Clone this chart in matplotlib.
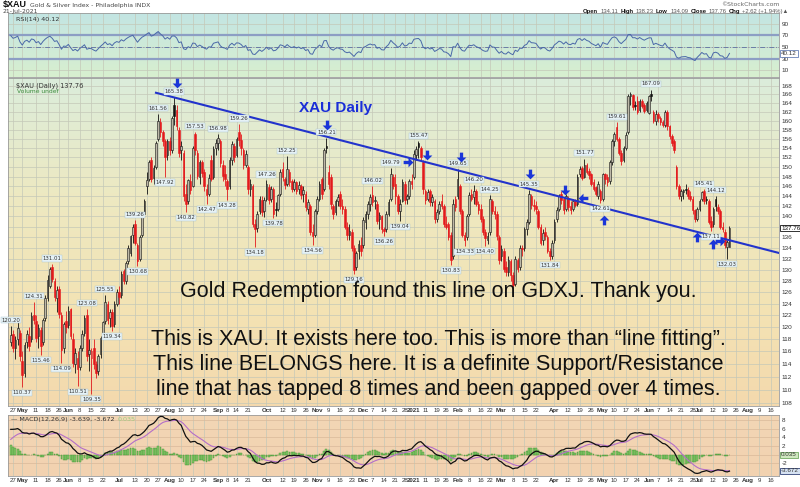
import numpy as np
import pandas as pd
import matplotlib
matplotlib.use('Agg')
import matplotlib.pyplot as plt
from matplotlib.path import Path
from matplotlib.markers import MarkerStyle
from matplotlib.transforms import Affine2D
from matplotlib.colors import to_rgb

plt.rcParams['font.family'] = ['Liberation Sans', 'DejaVu Sans']

# ---- daily OHLC of $XAU, 24-Apr-2020 .. 21-Jul-2021 (one line per week) ----
holidays = ['2020-05-25', '2020-07-03', '2020-09-07', '2020-11-26', '2020-12-25', '2021-01-01',
            '2021-01-18', '2021-02-15', '2021-04-02', '2021-05-31', '2021-07-05']

opens = [
    117.5,
    118.8, 116.5, 118.0, 119.0, 114.5,
    112.5, 117.5, 118.5, 118.0, 122.0,
    121.0, 118.5, 119.5, 117.5, 121.5,
    125.0, 127.0, 130.5, 128.0, 125.0,
    126.5, 122.0, 116.5, 121.0,
    120.3, 123.0, 118.0, 114.0, 115.0,
    113.5, 116.5, 119.0, 122.0, 115.5,
    115.0, 116.5, 114.0, 112.8, 115.5,
    118.5, 121.0, 124.0, 121.5, 122.5,
    120.5, 124.0, 126.0, 125.5,
    129.8, 128.0, 131.5, 133.0, 136.5,
    138.5, 134.5, 132.0, 136.5, 140.5,
    146.0, 147.5, 151.5, 147.8, 150.0,
    156.0, 159.8, 157.5, 155.5, 152.5,
    155.5, 153.5, 163.5, 162.5, 158.0,
    153.5, 153.0, 144.5, 143.0, 147.0,
    146.0, 157.0, 153.0, 148.0, 151.0,
    149.0, 145.5, 144.5, 151.5, 148.0,
    154.0, 155.0, 155.5, 150.5, 148.5,
    147.0, 146.0, 151.5, 154.5,
    152.5, 157.5, 155.8, 153.5, 150.5,
    150.0, 145.5, 146.0, 138.5, 137.8,
    141.0, 143.2, 141.0, 143.5, 145.8,
    143.5, 145.5, 141.5, 141.5, 144.5,
    149.5, 147.5, 146.5, 149.0, 147.0,
    145.5, 146.8, 145.5, 146.0, 144.5,
    144.5, 141.5, 142.0, 137.0, 136.5,
    141.0, 143.5, 147.5, 145.5, 154.5,
    149.0, 148.0, 142.0, 140.8, 143.0,
    144.5, 142.0, 141.5, 138.0, 136.5,
    137.0, 134.0, 130.5, 133.5,
    134.5, 134.5, 139.0, 140.5, 142.5,
    144.2, 143.0, 142.5, 139.5, 140.0,
    137.5, 137.5, 140.5, 143.5, 148.0,
    146.5, 144.0, 141.0, 143.0,
    146.5, 143.5, 144.0, 147.0,
    148.0, 152.5, 155.0, 154.0, 151.0,
    145.0, 143.5, 145.0, 142.8, 143.0,
    139.5, 141.0, 143.0, 142.0,
    138.5, 138.5, 136.5, 132.5, 143.5,
    144.0, 146.0, 141.0, 136.5, 136.0,
    140.5, 144.5, 143.8, 145.0, 142.5,
    141.5, 139.5, 137.0, 135.5,
    137.0, 143.0, 141.0, 140.5, 136.0,
    132.5, 133.5, 130.5, 129.5, 131.5,
    129.0, 127.5, 131.8, 130.5, 134.0,
    134.0, 137.5, 139.0, 144.0, 142.2,
    142.0, 141.0, 138.0, 135.5, 137.0,
    136.0, 133.5, 132.5, 135.5,
    139.5, 141.5, 144.5, 143.5, 141.5,
    143.5, 142.0, 141.5, 143.0, 142.5,
    148.5, 149.8, 148.0, 150.5, 149.2,
    148.5, 146.8, 145.8, 144.0, 145.0,
    143.5, 148.5, 148.0, 147.0, 151.0,
    155.5, 158.5, 156.0, 153.0, 151.5,
    154.0, 157.5, 165.5, 165.8, 163.5,
    164.5, 162.5, 164.5, 163.5, 162.5,
    161.8, 166.0, 162.0, 160.0,
    161.5, 160.5, 159.6, 159.0, 162.0,
    158.8, 156.6, 155.5, 150.0, 146.0,
    144.0, 144.8, 145.5, 145.2, 144.0,
    143.5, 141.2, 139.6, 141.5, 143.5,
    145.0, 143.5, 143.0, 139.2,
    138.5, 143.5, 141.8, 141.0, 138.0,
    137.0, 134.2, 134.11,
]

highs = [
    120.2,
    119.5, 118.5, 121.0, 119.5, 116.0,
    117.5, 119.5, 120.0, 122.5, 124.31,
    122.0, 120.5, 120.0, 121.5, 125.5,
    129.0, 130.5, 131.01, 128.5, 127.0,
    127.0, 122.5, 120.8, 122.8,
    123.5, 123.3, 119.0, 116.5, 116.0,
    117.0, 119.5, 122.0, 123.08, 118.0,
    116.5, 118.0, 114.5, 115.5, 118.5,
    121.0, 125.55, 124.5, 123.0, 123.0,
    124.5, 126.5, 127.0, 129.8,
    130.2, 131.5, 134.5, 136.5, 138.5,
    139.26, 135.0, 136.5, 140.5, 143.5,
    149.0, 151.5, 152.0, 150.5, 155.5,
    161.56, 160.5, 158.0, 156.0, 156.0,
    156.5, 161.0, 165.38, 163.5, 158.5,
    155.5, 153.5, 146.5, 147.5, 148.5,
    154.5, 157.53, 153.5, 151.5, 151.5,
    149.5, 146.5, 148.5, 152.5, 154.5,
    156.0, 156.98, 156.0, 151.5, 150.5,
    147.5, 152.0, 155.5, 155.0,
    156.5, 159.26, 157.0, 154.0, 153.5,
    150.5, 147.5, 146.5, 139.5, 141.0,
    144.0, 144.0, 143.8, 147.26, 146.5,
    146.0, 145.8, 142.8, 144.5, 149.5,
    151.0, 148.0, 152.25, 149.5, 147.5,
    147.5, 147.0, 147.0, 146.5, 146.0,
    145.0, 143.5, 142.5, 138.5, 141.5,
    144.0, 147.0, 148.0, 154.0, 156.21,
    150.5, 148.5, 142.5, 143.5, 144.5,
    145.0, 143.5, 142.0, 139.0, 138.5,
    137.5, 134.5, 133.5, 135.5,
    136.0, 139.8, 141.0, 143.0, 144.5,
    146.02, 144.0, 143.0, 140.8, 140.3,
    138.0, 141.0, 143.5, 149.79, 148.5,
    148.5, 144.5, 143.5, 147.5,
    147.0, 144.5, 147.5, 148.5,
    153.5, 154.5, 155.47, 154.5, 151.5,
    145.5, 145.5, 145.5, 144.5, 143.5,
    141.5, 143.0, 144.5, 142.5,
    140.0, 139.0, 137.0, 143.5, 144.0,
    149.65, 146.5, 141.5, 137.0, 140.5,
    144.8, 145.5, 146.2, 145.5, 143.0,
    142.5, 140.0, 137.5, 137.0,
    144.25, 143.5, 142.0, 141.0, 136.5,
    134.5, 134.0, 131.5, 132.5, 132.0,
    129.5, 132.5, 132.2, 134.5, 134.5,
    138.0, 139.5, 145.35, 144.5, 143.5,
    143.0, 141.5, 138.5, 137.5, 138.0,
    136.5, 134.0, 135.5, 139.5,
    141.8, 144.5, 145.0, 143.8, 144.5,
    144.0, 143.0, 143.5, 143.5, 148.5,
    150.2, 150.2, 151.77, 150.8, 149.8,
    148.8, 147.5, 146.0, 147.0, 145.5,
    148.8, 148.8, 148.5, 151.5, 156.0,
    157.5, 159.61, 156.5, 153.5, 154.5,
    157.5, 166.0, 166.5, 166.0, 164.5,
    165.5, 165.0, 165.0, 164.0, 164.5,
    165.8, 167.09, 162.5, 162.5,
    162.0, 161.0, 160.2, 162.5, 162.5,
    159.0, 157.0, 156.0, 150.5, 146.5,
    145.5, 145.5, 146.5, 145.8, 145.0,
    144.0, 141.5, 141.8, 143.5, 145.0,
    145.41, 144.0, 143.5, 140.0,
    141.8, 144.12, 142.5, 141.5, 139.0,
    137.5, 135.5, 138.23,
]

lows = [
    116.8,
    115.9, 114.8, 117.0, 114.5, 110.37,
    112.0, 116.5, 116.0, 117.5, 120.5,
    117.5, 116.5, 115.46, 117.0, 121.0,
    124.5, 126.8, 127.8, 124.5, 122.5,
    121.5, 114.09, 115.8, 119.0,
    119.8, 118.0, 113.5, 112.5, 110.51,
    113.0, 116.0, 118.5, 114.5, 112.8,
    109.35, 113.2, 111.8, 112.2, 115.0,
    118.0, 120.5, 120.5, 120.0, 119.34,
    120.0, 123.5, 124.0, 125.0,
    127.5, 127.5, 131.0, 132.5, 135.0,
    134.5, 130.68, 131.5, 136.0, 140.0,
    144.5, 147.0, 146.8, 146.5, 149.5,
    155.5, 156.5, 154.5, 147.92, 151.5,
    152.5, 153.0, 159.0, 158.0, 152.0,
    151.5, 143.0, 140.82, 142.5, 144.5,
    145.8, 152.5, 147.5, 146.5, 148.0,
    145.0, 142.47, 144.0, 147.0, 147.5,
    152.5, 153.5, 150.0, 147.0, 146.0,
    143.28, 145.5, 150.5, 151.0,
    152.0, 154.5, 152.5, 149.5, 150.0,
    144.5, 144.0, 138.0, 134.18, 137.0,
    140.5, 140.0, 139.8, 143.0, 142.5,
    142.8, 139.78, 140.0, 141.0, 144.0,
    147.0, 145.5, 146.0, 146.0, 144.8,
    145.0, 144.5, 144.5, 143.5, 142.8,
    141.0, 140.5, 136.5, 134.56, 136.0,
    140.5, 143.0, 143.5, 145.0, 153.0,
    145.5, 141.5, 139.5, 140.2, 142.0,
    141.5, 140.5, 137.5, 135.5, 135.5,
    133.5, 129.16, 130.0, 132.0,
    132.5, 134.0, 137.5, 139.5, 141.0,
    142.0, 141.5, 138.5, 137.5, 136.8,
    136.26, 137.0, 140.0, 143.0, 145.5,
    142.5, 140.5, 139.04, 142.8,
    142.5, 142.5, 143.5, 145.5,
    147.5, 151.5, 151.8, 151.5, 144.5,
    142.5, 143.0, 142.0, 142.0, 138.8,
    139.0, 140.5, 141.5, 138.0,
    137.5, 135.5, 130.83, 132.0, 141.0,
    143.5, 140.5, 136.0, 134.33, 135.5,
    140.0, 143.0, 142.5, 142.0, 140.5,
    139.0, 136.5, 134.4, 134.8,
    136.5, 140.5, 139.5, 135.5, 131.0,
    131.5, 129.5, 128.8, 128.8, 128.0,
    126.5, 127.0, 129.5, 130.0, 132.5,
    133.5, 136.5, 138.5, 141.5, 141.0,
    140.5, 137.5, 134.5, 134.5, 135.5,
    133.0, 131.84, 132.0, 135.0,
    139.0, 141.0, 142.5, 140.5, 141.0,
    141.0, 140.5, 141.0, 141.8, 142.0,
    148.0, 147.2, 147.8, 148.5, 147.5,
    146.0, 145.0, 144.0, 143.5, 142.61,
    143.0, 146.5, 146.0, 146.5, 150.5,
    154.5, 155.5, 152.5, 150.5, 151.0,
    153.5, 157.0, 163.5, 162.5, 162.5,
    161.5, 162.0, 162.8, 161.8, 162.0,
    161.5, 164.5, 159.5, 159.0,
    159.8, 159.0, 158.5, 158.5, 158.0,
    156.0, 154.5, 153.0, 145.5, 143.5,
    143.0, 143.5, 144.5, 143.5, 143.0,
    140.5, 139.0, 139.2, 141.0, 143.0,
    142.5, 142.5, 138.5, 137.11,
    138.0, 141.0, 140.5, 137.5, 137.0,
    134.0, 132.03, 134.09,
]

closes = [
    118.6,
    116.6, 117.8, 119.8, 115.2, 112.2,
    117.0, 118.8, 116.8, 121.8, 121.2,
    118.2, 119.8, 116.8, 121.2, 125.0,
    128.2, 130.2, 128.3, 125.2, 126.3,
    122.2, 116.2, 120.5, 120.0,
    122.8, 118.5, 114.2, 115.8, 113.2,
    116.5, 118.8, 121.5, 115.2, 116.2,
    116.0, 114.0, 112.5, 115.2, 118.2,
    120.8, 124.2, 121.2, 122.5, 120.2,
    124.0, 126.0, 125.2, 129.2,
    127.9, 131.2, 134.0, 136.2, 138.0,
    135.0, 131.5, 136.0, 140.2, 143.0,
    147.2, 151.0, 147.5, 149.8, 155.0,
    160.0, 157.5, 155.5, 152.0, 155.5,
    153.5, 160.5, 161.0, 158.8, 153.0,
    154.5, 144.0, 142.5, 147.2, 145.2,
    154.0, 153.5, 148.2, 151.0, 148.8,
    146.0, 144.2, 147.8, 147.5, 153.8,
    155.0, 156.2, 150.8, 148.2, 147.5,
    145.5, 151.5, 154.8, 152.0,
    156.0, 155.8, 154.0, 150.5, 152.8,
    145.5, 146.5, 138.5, 137.5, 140.5,
    143.5, 140.8, 143.2, 146.5, 143.2,
    145.5, 140.5, 141.2, 144.2, 149.0,
    148.0, 146.2, 149.5, 146.8, 145.5,
    146.8, 145.0, 146.2, 144.3, 145.2,
    141.8, 142.8, 137.0, 136.2, 141.0,
    143.5, 146.5, 144.5, 153.5, 154.0,
    146.5, 142.5, 140.5, 143.0, 143.8,
    142.0, 141.5, 138.0, 136.5, 137.2,
    134.0, 130.0, 133.0, 134.8,
    133.5, 139.3, 140.5, 142.5, 143.8,
    142.8, 143.2, 139.2, 140.2, 137.5,
    137.2, 140.5, 142.8, 148.5, 146.0,
    144.0, 141.0, 142.5, 146.8,
    143.2, 144.0, 147.0, 146.5,
    152.8, 153.8, 154.2, 152.2, 145.5,
    143.2, 144.8, 142.8, 143.8, 139.5,
    140.8, 142.5, 142.0, 138.5,
    138.0, 136.0, 131.8, 142.5, 141.8,
    147.5, 141.0, 136.5, 135.5, 140.0,
    144.2, 143.5, 145.0, 142.5, 141.2,
    139.5, 137.0, 135.8, 136.2,
    143.5, 141.0, 140.5, 136.2, 131.8,
    133.8, 130.2, 129.5, 131.8, 129.0,
    127.2, 132.0, 130.2, 134.0, 133.8,
    137.5, 139.0, 144.5, 142.2, 142.0,
    141.5, 138.0, 135.0, 136.8, 136.2,
    133.5, 132.5, 135.0, 139.0,
    141.2, 144.0, 143.2, 141.2, 144.0,
    141.8, 141.3, 143.0, 142.2, 148.0,
    149.5, 147.8, 150.5, 149.0, 148.3,
    146.5, 145.5, 144.5, 146.5, 143.3,
    148.5, 147.5, 146.8, 151.0, 155.5,
    157.0, 156.0, 153.0, 151.2, 154.0,
    156.8, 165.5, 166.0, 163.0, 163.2,
    162.0, 164.5, 163.2, 162.2, 164.0,
    165.5, 165.6, 160.0, 161.5,
    160.5, 159.6, 159.0, 162.0, 158.8,
    156.6, 155.2, 153.6, 146.0, 144.0,
    145.0, 145.2, 145.3, 144.0, 143.5,
    141.2, 139.6, 141.5, 143.0, 144.8,
    143.0, 143.3, 139.0, 138.0,
    141.5, 142.0, 141.0, 138.0, 137.6,
    134.5, 135.14, 137.76,
]

# labelled swing highs / lows
label_highs = [120.20, 124.31, 131.01, 123.08, 125.55, 139.26, 161.56, 165.38, 157.53, 156.98,
               159.26, 147.26, 152.25, 156.21, 146.02, 149.79, 155.47, 149.65, 146.20, 144.25,
               145.35, 151.77, 159.61, 167.09, 145.41, 144.12]
label_lows = [110.37, 115.46, 114.09, 110.51, 109.35, 119.34, 130.68, 147.92, 140.82, 142.47,
              143.28, 134.18, 139.78, 134.56, 129.16, 136.26, 139.04, 130.83, 134.33, 134.40,
              131.84, 142.61, 137.11, 132.03]

# blue arrows drawn on the chart (trading-day position, price, direction)
arrow_pos = [72.2, 137.3, 172.4, 180.7, 195.4, 225.4, 240.6, 248.4, 257.5, 297.9, 304.8, 307.9]
arrow_price = [168.7, 159.0, 151.1, 152.6, 152.0, 148.5, 145.3, 143.7, 139.4, 136.1, 134.8, 135.2]
arrow_dir = ['down', 'down', 'right', 'down', 'down', 'down', 'down', 'left', 'up', 'up', 'up', 'right']

# trend line (trading-day position, price)
trend_pos = [62.6, 334.0]
trend_price = [166.4, 133.0]

# indicator starting state (from the chart history before the window)
rsi_gain0, rsi_loss0 = 1.5, 0.65
ema12_0, ema26_0, signal0 = 111.0, 105.2, 3.5

tick_dates = ['2020-04-27', '2020-05-01', '2020-05-11', '2020-05-18', '2020-05-26', '2020-06-01',
              '2020-06-08', '2020-06-15', '2020-06-22', '2020-07-01', '2020-07-13', '2020-07-20',
              '2020-07-27', '2020-08-03', '2020-08-10', '2020-08-17', '2020-08-24', '2020-09-01',
              '2020-09-08', '2020-09-14', '2020-09-21', '2020-10-01', '2020-10-12', '2020-10-19',
              '2020-10-26', '2020-11-02', '2020-11-09', '2020-11-16', '2020-11-23', '2020-12-01',
              '2020-12-07', '2020-12-14', '2020-12-21', '2020-12-28', '2021-01-04', '2021-01-11',
              '2021-01-19', '2021-01-25', '2021-02-01', '2021-02-08', '2021-02-16', '2021-02-22',
              '2021-03-01', '2021-03-08', '2021-03-15', '2021-03-22', '2021-04-01', '2021-04-12',
              '2021-04-19', '2021-04-26', '2021-05-03', '2021-05-10', '2021-05-17', '2021-05-24',
              '2021-06-01', '2021-06-07', '2021-06-14', '2021-06-21', '2021-06-28', '2021-07-01',
              '2021-07-12', '2021-07-19', '2021-07-26', '2021-08-02', '2021-08-09', '2021-08-16']
tick_labels = ['27', 'May', '11', '18', '26', 'Jun', '8', '15', '22', 'Jul', '13', '20', '27', 'Aug',
               '10', '17', '24', 'Sep', '8', '14', '21', 'Oct', '12', '19', '26', 'Nov', '9', '16', '23',
               'Dec', '7', '14', '21', '28', '2021', '11', '19', '26', 'Feb', '8', '16', '22', 'Mar', '8',
               '15', '22', 'Apr', '12', '19', '26', 'May', '10', '17', '24', 'Jun', '7', '14', '21', '28',
               'Jul', '12', '19', '26', 'Aug', '9', '16']

# ---- derived ----
n = min(len(opens), len(highs), len(lows), len(closes))
o = np.array(opens[:n]); h = np.array(highs[:n]); l = np.array(lows[:n]); c = np.array(closes[:n])
x = np.arange(n)

days = pd.bdate_range('2020-04-24', '2021-09-30')
days = days[~days.isin(pd.to_datetime(holidays))]
tick_x = [days.get_loc(pd.Timestamp(d)) for d in tick_dates]

def rsi_calc(cl, g, lo, period=14):
    out = [100 - 100 / (1 + g / lo)]
    for i in range(1, len(cl)):
        ch = cl[i] - cl[i - 1]
        g = (g * (period - 1) + max(ch, 0)) / period
        lo = (lo * (period - 1) + max(-ch, 0)) / period
        out.append(100 - 100 / (1 + g / lo))
    return np.array(out)

def ema_calc(vals, seed, span):
    a = 2 / (span + 1)
    out = [seed]
    for v in vals[1:]:
        out.append(out[-1] + a * (v - out[-1]))
    return np.array(out)

rsi = rsi_calc(c, rsi_gain0, rsi_loss0)
macd = ema_calc(c, ema12_0, 12) - ema_calc(c, ema26_0, 26)
signal = ema_calc(macd, signal0, 9)
hist = macd - signal

# ---- layout ----
W, H = 800, 487
fig = plt.figure(figsize=(W / 100, H / 100), dpi=100)

def rect(left, top, right, bottom):
    return [left / W, 1 - bottom / H, (right - left) / W, (bottom - top) / H]

def gradient(r, stops):
    bg = fig.add_axes(r, zorder=-5)
    ys = np.linspace(0, 1, 200)
    cols = np.array([to_rgb(s[1]) for s in stops])
    ps = [s[0] for s in stops]
    img = np.stack([np.interp(ys, ps, cols[:, k]) for k in range(3)], axis=1)[:, None, :]
    bg.imshow(img, aspect='auto', extent=[0, 1, 0, 1], interpolation='bilinear')
    bg.axis('off')

r_rsi = rect(8, 13, 779, 77)
r_main = rect(8, 78, 779, 406)
r_macd = rect(8, 415, 779, 476)
gradient(r_rsi, [(0, '#c3e5e3'), (1, '#d8efcf')])
gradient(r_main, [(0, '#dbeddb'), (0.35, '#ede9c2'), (0.7, '#f3e3b4'), (1, '#f4d9ad')])
gradient(r_macd, [(0, '#f3d6b5'), (1, '#f2d2b0')])

ax_r = fig.add_axes(r_rsi)
ax = fig.add_axes(r_main)
ax_m = fig.add_axes(r_macd)

grid_c = '#c4c8b8'
for a in (ax_r, ax, ax_m):
    a.set_facecolor('none')
    a.set_xlim(-1.2, 333.5)
    a.set_xticks(tick_x)
    a.grid(axis='x', color=grid_c, lw=0.5)
    a.set_axisbelow(True)
    a.yaxis.tick_right()
    a.tick_params(length=0, labelsize=4.6, colors='#333333', pad=2)
    for s in a.spines.values():
        s.set_color('#9a9a9a')
        s.set_linewidth(0.6)

ax_r.tick_params(axis='x', labelbottom=False)
for a in (ax, ax_m):
    a.set_xticklabels(tick_labels)
    a.tick_params(axis='x', pad=1.2, labelsize=4.4)
    for t, lab in zip(a.get_xticklabels(), tick_labels):
        if not lab.isdigit() or lab == '2021':
            t.set_fontweight('bold')

# ---- RSI panel ----
ax_r.set_ylim(-2, 109)
ax_r.set_yticks([10, 30, 50, 70, 90])
ax_r.grid(axis='y', color=grid_c, lw=0.5)
ax_r.axhline(70, color='#8c9ec4', lw=1.6)
ax_r.axhline(30, color='#8c9ec4', lw=1.6)
ax_r.axhline(50, color='#5b6fa3', lw=0.6, ls=(0, (6, 2, 1, 2)))
ax_r.fill_between(x, 70, rsi, where=rsi > 70, interpolate=True, color='#5f7fbf', alpha=0.6, lw=0)
ax_r.fill_between(x, 30, rsi, where=rsi < 30, interpolate=True, color='#5f7fbf', alpha=0.6, lw=0)
ax_r.plot(x, rsi, color='#4a68a8', lw=0.7)
ax_r.text(0.01, 0.93, 'RSI(14) 40.12', transform=ax_r.transAxes, fontsize=4.6, color='#333333',
          va='top', family='DejaVu Sans')
ax_r.annotate('40.12', xy=(1.0, rsi[-1]), xycoords=ax_r.get_yaxis_transform(), xytext=(1.5, 0),
              textcoords='offset points', fontsize=4.5, va='center', ha='left', color='#333',
              bbox=dict(boxstyle='square,pad=0.12', fc='white', ec='#4a68a8', lw=0.5),
              annotation_clip=False)

# ---- price panel ----
ax.set_yscale('log')
ax.set_ylim(107.5, 169.8)
price_ticks = list(range(108, 169, 2))
ax.yaxis.set_minor_locator(plt.NullLocator())
ax.set_yticks(price_ticks)
ax.set_yticklabels([str(v) for v in price_ticks])
ax.grid(axis='y', color=grid_c, lw=0.5)

red = '#e3191c'
prev = np.r_[o[0], c[:-1]]
col = np.where(c >= prev, '#111111', red)
hollow = c > o
face = np.where(hollow, '#bdb8a8', col)
ax.vlines(x, l, h, colors=col, lw=0.6, zorder=3)
ax.bar(x, np.maximum(np.abs(c - o), 0.15), bottom=np.minimum(o, c), width=0.72, color=face,
       edgecolor=col, lw=0.4, zorder=4)

ax.plot(trend_pos, trend_price, color='#2233cc', lw=1.5, zorder=5, solid_capstyle='butt')

box = dict(boxstyle='square,pad=0.12', fc='#e6f2f6', ec='#a8c4d0', lw=0.3)
for v in label_highs:
    idx = np.where(np.isclose(h, v))[0]
    if len(idx):
        ax.annotate('%.2f' % v, xy=(idx[0], v), xytext=(0, 2.2), textcoords='offset points',
                    ha='center', va='bottom', fontsize=3.9, color='#333', bbox=box, zorder=6,
                    family='DejaVu Sans')
for v in label_lows:
    idx = np.where(np.isclose(l, v))[0]
    if len(idx):
        ax.annotate('%.2f' % v, xy=(idx[0], v), xytext=(0, -2.2), textcoords='offset points',
                    ha='center', va='top', fontsize=3.9, color='#333', bbox=box, zorder=6,
                    family='DejaVu Sans')

arrow_path = Path([(-0.17, 0.5), (0.17, 0.5), (0.17, 0.0), (0.5, 0.0), (0.0, -0.5), (-0.5, 0.0),
                   (-0.17, 0.0), (-0.17, 0.5)], closed=True)
rot = {'down': 0, 'up': 180, 'right': 90, 'left': -90}
for px, py, d in zip(arrow_pos, arrow_price, arrow_dir):
    m = MarkerStyle(arrow_path, transform=Affine2D().rotate_deg(rot[d]))
    ax.plot([px], [py], marker=m, ms=7, color='#1a35d8', mec='#1a35d8', mew=0, zorder=7)

ax.text(0.01, 0.985, '$XAU (Daily) 137.76', transform=ax.transAxes, fontsize=4.8, color='#333',
        va='top', family='DejaVu Sans')
ax.text(0.012, 0.965, 'Volume undef', transform=ax.transAxes, fontsize=4.3, color='#3a8a3a',
        va='top', family='DejaVu Sans')
ax.text(0.4254, 0.908, 'XAU Daily', transform=ax.transAxes, fontsize=11, fontweight='bold',
        color='#1a2ed8', ha='center', va='center')

big_lines = ['Gold Redemption found this line on GDXJ. Thank you.',
             'This is XAU. It exists here too. This is more than \u201cline fitting\u201d.',
             'This line BELONGS here. It is a definite Support/Resistance',
             'line that has tapped 8 times and been gapped over 4 times.']
for txt, yb in zip(big_lines, [0.3323, 0.186, 0.1098, 0.0335]):
    ax.text(0.5577, yb, txt, transform=ax.transAxes, fontsize=15.5, color='#111111',
            ha='center', va='baseline', zorder=8)

ax.annotate('137.76', xy=(1.0, c[-1]), xycoords=ax.get_yaxis_transform(), xytext=(1.5, 0),
            textcoords='offset points', fontsize=4.5, va='center', ha='left', color='#111',
            bbox=dict(boxstyle='square,pad=0.12', fc='white', ec='#111', lw=0.6),
            annotation_clip=False)

# ---- MACD panel ----
ax_m.set_ylim(-4.9, 9.1)
ax_m.set_yticks([-2, 0, 2, 4, 6, 8])
ax_m.set_yticklabels(['-2', '', '2', '4', '6', '8'])
ax_m.grid(axis='y', color='#d9b99a', lw=0.5)
ax_m.bar(x, hist, width=0.8, color='#86c96a', edgecolor='#3f8f30', lw=0.3, zorder=2)
ax_m.plot(x, signal, color='#b46ec8', lw=0.8, zorder=3)
ax_m.plot(x, macd, color='#111111', lw=0.9, zorder=4)
t = ax_m.text(0.004, 0.975, '\u2014 MACD(12,26,9) -3.639, -3.672', transform=ax_m.transAxes,
              fontsize=4.6, color='#333', va='top', family='DejaVu Sans')
ax_m.annotate('0.035', xy=(1, 0.5), xycoords=t, xytext=(2, 0), textcoords='offset points',
              fontsize=4.6, color='#9ccc80', va='center', family='DejaVu Sans')
ax_m.annotate('0.035', xy=(1.0, hist[-1]), xycoords=ax_m.get_yaxis_transform(), xytext=(1.5, 0),
              textcoords='offset points', fontsize=4.5, va='center', ha='left', color='#333',
              bbox=dict(boxstyle='square,pad=0.12', fc='#cfe8c0', ec='#5a9a4a', lw=0.5),
              annotation_clip=False)
ax_m.annotate('-3.672', xy=(1.0, signal[-1]), xycoords=ax_m.get_yaxis_transform(), xytext=(1.5, 0),
              textcoords='offset points', fontsize=4.5, va='center', ha='left', color='#333',
              bbox=dict(boxstyle='square,pad=0.12', fc='#d6e2f2', ec='#33447a', lw=0.6),
              annotation_clip=False)

# ---- header ----
t = fig.text(3 / W, 1 - 5 / H, '$XAU', fontsize=6.5, fontweight='bold', va='center', color='#111')
ax_r.annotate('Gold & Silver Index - Philadelphia INDX', xy=(1, 0.45), xycoords=t, xytext=(2, 0),
              textcoords='offset points', fontsize=4.4, va='center', color='#444',
              annotation_clip=False, family='DejaVu Sans')
fig.text(3 / W, 1 - 11.5 / H, '21-Jul-2021', fontsize=4.4, va='center', color='#444',
         family='DejaVu Sans')
fig.text(779 / W, 1 - 4 / H, '\u00a9StockCharts.com', fontsize=4.4, va='center', ha='right',
         color='#666', family='DejaVu Sans')
parts = [('Open', 'bold', '#111'), ('134.11', 'normal', '#555'), ('High', 'bold', '#111'),
         ('138.23', 'normal', '#555'), ('Low', 'bold', '#111'), ('134.09', 'normal', '#555'),
         ('Close', 'bold', '#111'), ('137.76', 'normal', '#555'), ('Chg', 'bold', '#111'),
         ('+2.62 (+1.94%)\u25b2', 'normal', '#555')]
t = fig.text(583 / W, 1 - 11.5 / H, parts[0][0], fontsize=4.2, fontweight=parts[0][1],
             color=parts[0][2], va='center')
for s, w, cc in parts[1:]:
    t = ax_r.annotate(s, xy=(1, 0.5), xycoords=t, xytext=(1.6, 0), textcoords='offset points',
                      fontsize=4.2, fontweight=w, color=cc, va='center', annotation_clip=False)

fig.savefig('out.png', dpi=100)
